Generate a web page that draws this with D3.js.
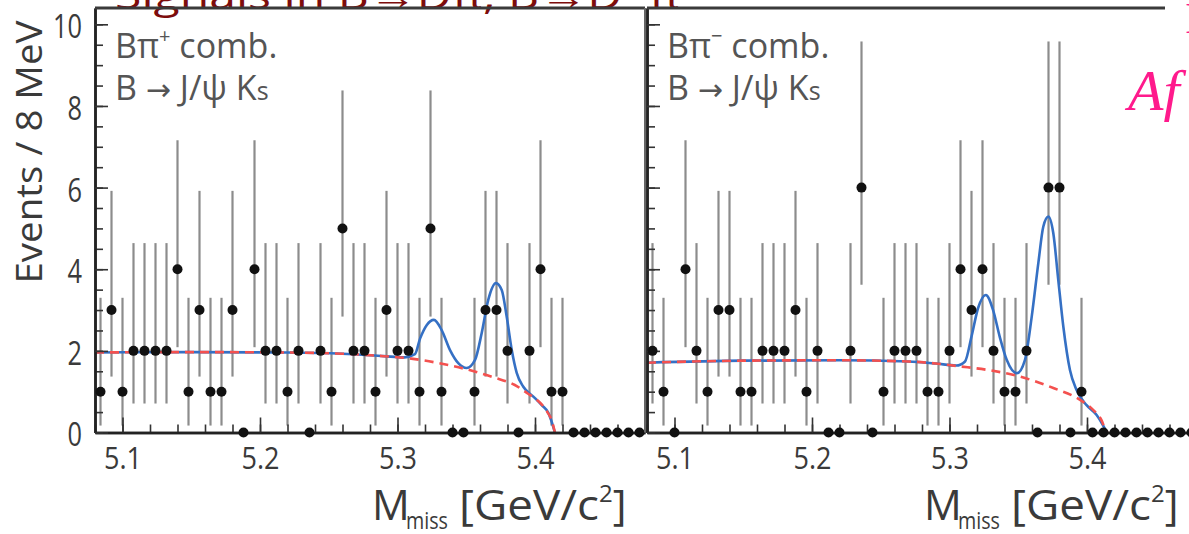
<!DOCTYPE html>
<html><head><meta charset="utf-8">
<script src="https://cdn.jsdelivr.net/npm/d3@7"></script>
<style>
html,body{margin:0;padding:0;background:#fff;overflow:hidden}
svg{display:block}
</style></head><body>
<svg id="chart" width="1189" height="534" font-family="'Open Sans',sans-serif"></svg>
<script>
// ---- data ----
const binCenters = [5.084,5.092,5.100,5.108,5.116,5.124,5.132,5.140,5.148,5.156,5.164,5.172,5.180,5.188,5.196,5.204,5.212,5.220,5.228,5.236,5.244,5.252,5.260,5.268,5.276,5.284,5.292,5.300,5.308,5.316,5.324,5.332,5.340,5.348,5.356,5.364,5.372,5.380,5.388,5.396,5.404,5.412,5.420,5.428,5.436,5.444,5.452,5.460,5.468,5.476];
const countsPlus  = [1,3,1,2,2,2,2,4,1,3,1,1,3,0,4,2,2,1,2,0,2,1,5,2,2, 1,3,2,2,1,5,1,0,0,1,3,3,2,0,2,4,1,1,0,0,0,0,0,0,0];
const countsMinus = [2,1,0,4,2,1,3,3,1,1,2,2,2,3,1,2,0,0,2,6,0,1,2,2,2, 1,1,2,4,3,4,2,1,1,2,0,6,6,0,1,0,0,0,0,0,0,0,0,0,0];
// Poisson interval limits, indexed by count
const barLow  = [0, 0.17, 0.71, 1.37, 2.09, 2.84, 3.62];
const barHigh = [0, 3.30, 4.64, 5.92, 7.16, 8.38, 9.58];
// fit curves (mass, events)
const bkgPlusM = [5.08,5.15,5.22,5.26,5.29,5.31,5.33,5.35,5.37,5.385,5.395,5.399,5.404,5.409,5.412,5.4145];
const bkgPlusV = [1.96,1.97,1.96,1.93,1.87,1.81,1.70,1.55,1.35,1.17,0.95,0.86,0.72,0.50,0.31,0.0];
const totPlusM = [5.08,5.15,5.22,5.26,5.29,5.305,5.3127,5.3164,5.3212,5.3265,5.3321,5.3382,5.3442,5.3503,5.3564,5.3612,5.3660,5.3716,5.3758,5.3794,5.3831,5.3867,5.3915,5.3988,5.4049,5.4097,5.4145];
const totPlusV = [1.96,1.97,1.96,1.93,1.87,1.84,1.92,2.30,2.63,2.76,2.51,2.02,1.70,1.58,1.78,2.43,3.25,3.66,3.49,2.84,2.02,1.46,1.12,0.88,0.67,0.48,0.0];
const bkgMinusM = [5.08,5.15,5.22,5.27,5.29,5.3076,5.33,5.349,5.3755,5.395,5.4046,5.4107,5.4135,5.415];
const bkgMinusV = [1.71,1.76,1.77,1.74,1.69,1.62,1.52,1.39,1.09,0.80,0.55,0.29,0.06,0.0];
const totMinusM = [5.08,5.15,5.22,5.27,5.29,5.305,5.3113,5.316,5.3208,5.3264,5.3317,5.3365,5.3416,5.349,5.3549,5.3598,5.3646,5.3682,5.3719,5.3755,5.3791,5.3828,5.3876,5.3924,5.3997,5.407,5.4145];
const totMinusV = [1.71,1.76,1.77,1.74,1.69,1.64,1.74,2.35,3.05,3.37,3.00,2.35,1.78,1.45,1.78,2.84,4.15,5.04,5.29,4.88,3.74,2.59,1.53,1.04,0.67,0.43,0.0];
// axes
const xTicksMajor = [5.1,5.2,5.3,5.4];
const xTickLabels = ["5.1","5.2","5.3","5.4"];
const xTicksMinor = [5.08,5.10,5.12,5.14,5.16,5.18,5.20,5.22,5.24,5.26,5.28,5.30,5.32,5.34,5.36,5.38,5.40,5.42,5.44,5.46,5.48];
const yTicksMajor = [0,2,4,6,8,10];
const yTickLabels = ["0","2","4","6","8","10"];
const yTicksMinor = [0,0.5,1,1.5,2,2.5,3,3.5,4,4.5,5,5.5,6,6.5,7,7.5,8,8.5,9,9.5,10];
const panelSigns = ["+","\u2212"];

// ---- drawing ----
const svg = d3.select("#chart");
const y = d3.scaleLinear().domain([0, 10.4]).range([432.5, 8]);

// title (cut by the top edge)
svg.append("text").attr("x",115).attr("y",9)
  .attr("font-size",38).attr("fill","#7d0c0c")
  .attr("textLength",565).attr("lengthAdjust","spacingAndGlyphs")
  .text("Signals in B\u2192D\u03c0, B\u2192D*\u03c0");

function drawPanel(x0, x1, counts, bM, bV, tM, tV, sign, showY, topEnd) {
  const x = d3.scaleLinear().domain([5.08, 5.48]).range([x0, x1]);
  const g = svg.append("g");
  const pts = counts.map((c,i)=>({m:binCenters[i], c})).filter(d=>d.c>0);
  g.selectAll("line.err").data(pts).join("line")
    .attr("x1",d=>x(d.m)).attr("x2",d=>x(d.m))
    .attr("y1",d=>y(barLow[d.c])).attr("y2",d=>y(barHigh[d.c]))
    .attr("stroke","#8c8c8c").attr("stroke-width",2.2);

  const line = d3.line().x(d=>x(d[0])).y(d=>y(d[1])).curve(d3.curveMonotoneX);
  g.append("path").attr("d", line(tM.map((m,i)=>[m,tV[i]])))
    .attr("fill","none").attr("stroke","#3570c4").attr("stroke-width",2.6);
  g.append("path").attr("d", line(bM.map((m,i)=>[m,bV[i]])))
    .attr("fill","none").attr("stroke","#f4514f").attr("stroke-width",2.6)
    .attr("stroke-dasharray","9,6");

  // axes
  const styleAxis = a => { a.select(".domain").attr("stroke","#222").attr("stroke-width",2.5);
    a.selectAll(".tick line").attr("stroke","#333").attr("stroke-width",1.6); };
  const bx = g.append("g").attr("transform",`translate(0,${y(0)})`);
  bx.append("g").call(d3.axisBottom(x).tickValues(xTicksMinor).tickSize(-8).tickSizeOuter(0).tickFormat("")).call(styleAxis);
  bx.append("g").call(d3.axisBottom(x).tickValues(xTicksMajor).tickSize(-15).tickSizeOuter(0).tickPadding(14)
      .tickFormat((d,i)=>xTickLabels[i])).call(styleAxis)
    .selectAll("text").attr("font-size",31).attr("fill","#3a3a3a").attr("font-family","'Open Sans',sans-serif")
    .attr("textLength",38).attr("lengthAdjust","spacingAndGlyphs");

  const ly = g.append("g").attr("transform",`translate(${x0},0)`);
  ly.append("g").call(d3.axisLeft(y).tickValues(yTicksMinor).tickSize(-8).tickSizeOuter(0).tickFormat("")).call(styleAxis);
  const maj = ly.append("g").call(d3.axisLeft(y).tickValues(yTicksMajor).tickSize(-13).tickSizeOuter(0).tickPadding(13)
      .tickFormat((d,i)=> showY ? yTickLabels[i] : "")).call(styleAxis);
  maj.selectAll("text").attr("font-size",32).attr("fill","#3a3a3a").attr("dy","0.42em").attr("font-family","'Open Sans',sans-serif")
    .attr("textLength",d=> String(d).length*14.5).attr("lengthAdjust","spacingAndGlyphs");

  // top frame
  g.append("line").attr("x1",x0).attr("x2",topEnd).attr("y1",8).attr("y2",8)
    .attr("stroke","#3a3a3a").attr("stroke-width",3);

  // dots
  g.selectAll("circle").data(counts.map((c,i)=>({m:binCenters[i], c}))).join("circle")
    .attr("cx",d=>x(d.m)).attr("cy",d=>y(d.c)).attr("r",5).attr("fill","#111");

  // panel labels
  const t1 = g.append("text").attr("x",x0+20).attr("y",58).attr("font-size",34).attr("fill","#555");
  t1.append("tspan").text("B\u03c0");
  t1.append("tspan").attr("font-size",20).attr("dy",-15).text(sign);
  t1.append("tspan").attr("dy",15).text(" comb.");
  const t2 = g.append("text").attr("x",x0+20).attr("y",100).attr("font-size",34).attr("fill","#555");
  t2.append("tspan").text("B ");
  t2.append("tspan").attr("font-family","'DejaVu Sans'").attr("font-size",30).text("\u2192");
  t2.append("tspan").text(" J/\u03c8 K");
  t2.append("tspan").attr("font-size",25).text("s");

  // x title
  const xt = g.append("text").attr("y",520).attr("font-size",42).attr("fill","#3a3a3a");
  xt.append("tspan").attr("x",x0+277).text("M");
  xt.append("tspan").attr("x",x0+311).attr("dy",9).attr("font-size",23)
    .attr("textLength",42).attr("lengthAdjust","spacingAndGlyphs").text("miss");
  xt.append("tspan").attr("x",x0+364).attr("dy",-9).attr("textLength",140).attr("lengthAdjust","spacingAndGlyphs").text("[GeV/c");
  xt.append("tspan").attr("dy",-18).attr("font-size",24).text("2");
  xt.append("tspan").attr("dy",18).text("]");
  return x;
}

drawPanel(95, 645, countsPlus, bkgPlusM, bkgPlusV, totPlusM, totPlusV, panelSigns[0], true, 645);
drawPanel(647, 1197, countsMinus, bkgMinusM, bkgMinusV, totMinusM, totMinusV, panelSigns[1], false, 1165);

// right border of left panel
svg.append("line").attr("x1",645).attr("x2",645).attr("y1",8).attr("y2",432.5)
  .attr("stroke","#666").attr("stroke-width",2);

// y title
svg.append("text").attr("transform","translate(42,152) rotate(-90)")
  .attr("text-anchor","middle").attr("font-size",37).attr("fill","#3a3a3a")
  .attr("textLength",263).attr("lengthAdjust","spacingAndGlyphs")
  .text("Events / 8 MeV");

// pink overlay text at right
svg.append("text").attr("x",1128).attr("y",110).attr("font-family","'Liberation Serif',serif")
  .attr("font-style","italic").attr("font-size",58).attr("fill","#ff1a8c").text("Af");
svg.append("text").attr("x",1185).attr("y",33).attr("font-family","'Liberation Serif',serif")
  .attr("font-size",44).attr("fill","#ff1a8c").text("I");
</script>
</body></html>
